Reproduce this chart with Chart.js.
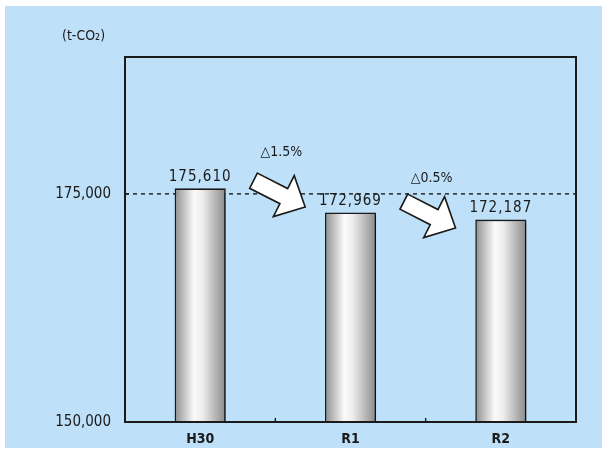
<!DOCTYPE html>
<html>
<head>
<meta charset="utf-8">
<script src="https://cdn.jsdelivr.net/npm/chart.js@4"></script>
<style>
  html, body { margin: 0; padding: 0; background: #fff; }
  #wrap { width: 605px; height: 455px; }
</style>
</head>
<body>
<div id="wrap"><canvas id="chart" width="605" height="455"></canvas></div>
<script>
const categories = ["H30", "R1", "R2"];
const emissions = [175610, 172969, 172187];
const valueLabels = ["175,610", "172,969", "172,187"];
const changeLabels = ["△1.5%", "△0.5%"];
const yTicks = [150000, 175000];
const unitLabel = "(t-CO₂)";

const FONT = "'DejaVu Sans Condensed', 'Liberation Sans Narrow', sans-serif";
const BG = "#bee0f9";

// white block arrow, centred at (cx, cy), pointing down-right
const drawArrow = (ctx, cx, cy) => {
  const pts = [
    [-29, -8.5], [5, -8.5], [5, -23], [29, 0], [5, 23], [5, 8.5], [-29, 8.5],
  ];
  const a = (27 * Math.PI) / 180;
  ctx.save();
  ctx.translate(cx, cy);
  ctx.rotate(a);
  ctx.beginPath();
  pts.forEach(([x, y], i) => (i ? ctx.lineTo(x, y) : ctx.moveTo(x, y)));
  ctx.closePath();
  ctx.fillStyle = "#fff";
  ctx.fill();
  ctx.lineWidth = 1.6;
  ctx.strokeStyle = "#1a1a1a";
  ctx.stroke();
  ctx.restore();
};

const decorations = {
  id: "decorations",
  beforeDraw(chart) {
    const { ctx } = chart;
    ctx.save();
    ctx.fillStyle = "#fff";
    ctx.fillRect(0, 0, chart.width, chart.height);
    ctx.fillStyle = BG;
    ctx.fillRect(5, 6, 597, 442);
    ctx.font = `14px ${FONT}`;
    ctx.fillStyle = "#1a1a1a";
    ctx.textAlign = "left";
    ctx.textBaseline = "middle";
    ctx.fillText(unitLabel, 62, 36);
    ctx.restore();
  },
  beforeDatasetsDraw(chart) {
    const { ctx, chartArea: a, scales } = chart;
    const yRef = scales.y.getPixelForValue(175000);
    ctx.save();
    // dashed reference line
    ctx.setLineDash([4, 4]);
    ctx.strokeStyle = "#1a1a1a";
    ctx.lineWidth = 1.4;
    ctx.beginPath();
    ctx.moveTo(a.left, yRef);
    ctx.lineTo(a.right, yRef);
    ctx.stroke();
    ctx.setLineDash([]);
    // category boundary ticks
    for (let i = 0; i < categories.length - 1; i++) {
      const x = (scales.x.getPixelForValue(i) + scales.x.getPixelForValue(i + 1)) / 2;
      ctx.beginPath();
      ctx.moveTo(x, a.bottom);
      ctx.lineTo(x, a.bottom - 4);
      ctx.stroke();
    }
    ctx.beginPath();
    ctx.moveTo(a.left, yRef);
    ctx.lineTo(a.left + 4, yRef);
    ctx.stroke();
    ctx.restore();
  },
  beforeDatasetDraw(chart) {
    const { ctx } = chart;
    ctx.save();
    ctx.shadowColor = "rgba(0,0,0,0.35)";
    ctx.shadowOffsetX = 2;
    ctx.shadowOffsetY = 1;
    ctx.shadowBlur = 1;
  },
  afterDatasetDraw(chart) {
    chart.ctx.restore();
  },
  afterDatasetsDraw(chart) {
    const { ctx, chartArea: a, scales } = chart;
    const bars = chart.getDatasetMeta(0).data;
    ctx.save();
    ctx.strokeStyle = "#1a1a1a";
    ctx.lineWidth = 2;
    ctx.strokeRect(a.left, a.top, a.right - a.left, a.bottom - a.top);

    ctx.fillStyle = "#1a1a1a";
    ctx.textAlign = "center";
    ctx.textBaseline = "bottom";
    ctx.font = `15px ${FONT}`;
    ctx.letterSpacing = "1px";
    bars.forEach((bar, i) => {
      ctx.fillText(valueLabels[i], bar.x, bar.y - 4);
    });

    // change arrows between bars
    const arrowY = [175000, 172700];
    const textY = [179500, 176650];
    for (let i = 0; i < categories.length - 1; i++) {
      const x = (scales.x.getPixelForValue(i) + scales.x.getPixelForValue(i + 1)) / 2 + 4;
      drawArrow(ctx, x, scales.y.getPixelForValue(arrowY[i]));
      ctx.textBaseline = "middle";
      ctx.font = `14px ${FONT}`;
      ctx.letterSpacing = "0px";
      ctx.fillText(changeLabels[i], x + 2, scales.y.getPixelForValue(textY[i]));
    }
    ctx.restore();
  },
};

const barGradient = (context) => {
  const chart = context.chart;
  const { ctx, chartArea, scales } = chart;
  if (!chartArea || !scales.x) return "#ccc";
  const cx = scales.x.getPixelForValue(context.dataIndex);
  const half = 25.5;
  const g = ctx.createLinearGradient(cx - half, 0, cx + half, 0);
  g.addColorStop(0, "#8e8e8e");
  g.addColorStop(0.38, "#fbfbfb");
  g.addColorStop(0.55, "#ececec");
  g.addColorStop(1, "#8a8a8a");
  return g;
};

new Chart(document.getElementById("chart"), {
  type: "bar",
  data: {
    labels: categories,
    datasets: [
      {
        data: emissions,
        backgroundColor: barGradient,
        borderColor: "#1a1a1a",
        borderWidth: 1.6,
        borderSkipped: "bottom",
        barPercentage: 0.34,
        categoryPercentage: 1,
      },
    ],
  },
  options: {
    responsive: false,
    animation: false,
    layout: { padding: { top: 57, right: 29, left: 0, bottom: 0 } },
    plugins: { legend: { display: false }, tooltip: { enabled: false } },
    scales: {
      x: {
        grid: { display: false },
        border: { display: false },
        ticks: {
          color: "#1a1a1a",
          font: { family: FONT, size: 14, weight: "bold" },
          padding: 1,
        },
        afterFit: (axis) => {
          axis.height = 33;
        },
      },
      y: {
        min: 150000,
        max: 190000,
        grid: { display: false },
        border: { display: false },
        afterBuildTicks: (axis) => {
          axis.ticks = yTicks.map((v) => ({ value: v }));
        },
        ticks: {
          color: "#1a1a1a",
          font: { family: FONT, size: 15 },
          padding: 6,
          callback: (v) => v.toLocaleString("en-US"),
        },
        afterFit: (axis) => {
          axis.width = 125;
        },
      },
    },
  },
  plugins: [decorations],
});
</script>
</body>
</html>
